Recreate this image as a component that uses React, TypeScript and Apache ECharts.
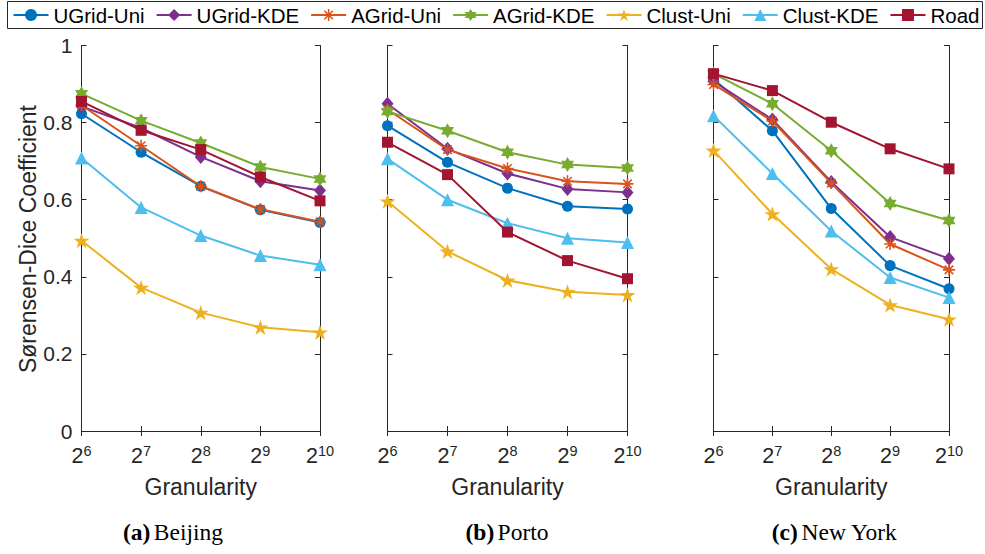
import React, { useEffect, useRef } from 'react';
import * as echarts from 'echarts';

// x categories: exponents of 2 (2^6 ... 2^10)
const granularityExponents = ['6', '7', '8', '9', '10'];
const seriesNames = ['UGrid-Uni', 'UGrid-KDE', 'AGrid-Uni', 'AGrid-KDE', 'Clust-Uni', 'Clust-KDE', 'Road'];
const yTicks = [0, 0.2, 0.4, 0.6, 0.8, 1];

// (a) Beijing
const beijingUGridUni = [0.823, 0.723, 0.635, 0.574, 0.541];
const beijingUGridKDE = [0.842, 0.786, 0.711, 0.648, 0.624];
const beijingAGridUni = [0.845, 0.740, 0.635, 0.575, 0.543];
const beijingAGridKDE = [0.875, 0.805, 0.747, 0.685, 0.654];
const beijingClustUni = [0.494, 0.372, 0.307, 0.269, 0.256];
const beijingClustKDE = [0.708, 0.580, 0.507, 0.455, 0.431];
const beijingRoad = [0.855, 0.780, 0.730, 0.659, 0.597];

// (b) Porto
const portoUGridUni = [0.792, 0.697, 0.630, 0.583, 0.576];
const portoUGridKDE = [0.849, 0.732, 0.668, 0.628, 0.619];
const portoAGridUni = [0.834, 0.730, 0.681, 0.648, 0.641];
const portoAGridKDE = [0.829, 0.779, 0.723, 0.691, 0.682];
const portoClustUni = [0.596, 0.466, 0.391, 0.361, 0.353];
const portoClustKDE = [0.706, 0.600, 0.539, 0.500, 0.489];
const portoRoad = [0.749, 0.665, 0.516, 0.442, 0.395];

// (c) New York
const nyUGridUni = [0.913, 0.779, 0.577, 0.429, 0.369];
const nyUGridKDE = [0.907, 0.808, 0.646, 0.503, 0.447];
const nyAGridUni = [0.899, 0.804, 0.643, 0.485, 0.418];
const nyAGridKDE = [0.927, 0.849, 0.727, 0.590, 0.546];
const nyClustUni = [0.728, 0.563, 0.420, 0.327, 0.290];
const nyClustKDE = [0.818, 0.668, 0.519, 0.398, 0.346];
const nyRoad = [0.927, 0.883, 0.801, 0.732, 0.680];

const panelCaptions = [
  { tag: '(a)', city: 'Beijing' },
  { tag: '(b)', city: 'Porto' },
  { tag: '(c)', city: 'New York' },
];

const panelData = [
  [beijingUGridUni, beijingUGridKDE, beijingAGridUni, beijingAGridKDE, beijingClustUni, beijingClustKDE, beijingRoad],
  [portoUGridUni, portoUGridKDE, portoAGridUni, portoAGridKDE, portoClustUni, portoClustKDE, portoRoad],
  [nyUGridUni, nyUGridKDE, nyAGridUni, nyAGridKDE, nyClustUni, nyClustKDE, nyRoad],
];

const colors = ['#0072BD', '#7E2F8E', '#D95319', '#77AC30', '#EDB120', '#4DBEEE', '#A2142F'];

function starPath(n: number, rOuter: number, rInner: number): string {
  const pts: string[] = [];
  for (let k = 0; k < 2 * n; k++) {
    const r = k % 2 === 0 ? rOuter : rInner;
    const a = -Math.PI / 2 + (k * Math.PI) / n;
    pts.push(`${(r * Math.cos(a)).toFixed(4)} ${(r * Math.sin(a)).toFixed(4)}`);
  }
  return 'path://M' + pts.join(' L') + ' Z';
}

function asteriskPath(): string {
  const w = 0.13;
  const parts: string[] = [];
  [0, 45, 90, 135].forEach((deg) => {
    const a = (deg * Math.PI) / 180;
    const c = Math.cos(a), s = Math.sin(a);
    const nx = -s * w, ny = c * w;
    const p = [
      [c + nx, s + ny],
      [-c + nx, -s + ny],
      [-c - nx, -s - ny],
      [c - nx, s - ny],
    ];
    parts.push('M' + p.map((q) => `${q[0].toFixed(4)} ${q[1].toFixed(4)}`).join(' L') + ' Z');
  });
  return 'path://' + parts.join(' ');
}

const symbols: any[] = [
  'circle',
  'diamond',
  asteriskPath(),
  starPath(6, 1, 0.577),
  starPath(5, 1, 0.382),
  'triangle',
  'rect',
];
const symbolSizes: any[] = [11, [12, 14], 12, 15, 16, 13, 11];

const grids = [
  { left: 81.5, width: 238.5 },
  { left: 387.5, width: 240 },
  { left: 713.5, width: 235.5 },
];
const gridTop = 45.5;
const gridHeight = 385.5;

const axisColor = '#262626';
const FONT = 'Liberation Sans, Arial, Helvetica, sans-serif';

export default function App() {
  const ref = useRef<HTMLDivElement>(null);
  useEffect(() => {
    if (!ref.current) return;
    const chart = echarts.init(ref.current, undefined, { renderer: 'svg' });

    const gridOpts: any[] = [];
    const xAxes: any[] = [];
    const yAxes: any[] = [];
    const series: any[] = [];
    const graphics: any[] = [];

    grids.forEach((g, p) => {
      gridOpts.push({ left: g.left, top: gridTop, width: g.width, height: gridHeight, containLabel: false });
      xAxes.push({
        type: 'category',
        gridIndex: p,
        position: 'bottom',
        data: granularityExponents,
        boundaryGap: false,
        axisLine: { show: true, lineStyle: { color: axisColor, width: 1 } },
        axisTick: { show: true, inside: true, length: 5, interval: 0, lineStyle: { color: axisColor } },
        axisLabel: {
          show: true,
          interval: 0,
          margin: 12,
          formatter: (v: string) => `{b|2}{s|${v}}`,
          rich: {
            b: { fontSize: 21.5, fontFamily: FONT, color: '#262626', lineHeight: 24, verticalAlign: 'bottom' },
            s: { fontSize: 14.5, fontFamily: FONT, color: '#262626', lineHeight: 14, verticalAlign: 'top' },
          },
        },
        splitLine: { show: false },
        name: 'Granularity',
        nameLocation: 'middle',
        nameGap: 44,
        nameTextStyle: { fontSize: 23, fontFamily: FONT, color: '#262626' },
      });
      xAxes.push({
        type: 'category',
        gridIndex: p,
        position: 'top',
        data: granularityExponents,
        boundaryGap: false,
        axisLine: { show: true, lineStyle: { color: axisColor, width: 1 } },
        axisTick: { show: true, inside: true, length: 5, interval: 0, lineStyle: { color: axisColor } },
        axisLabel: { show: false },
        splitLine: { show: false },
      });
      yAxes.push({
        type: 'value',
        gridIndex: p,
        position: 'left',
        min: 0,
        max: 1,
        interval: 0.2,
        axisLine: { show: true, lineStyle: { color: axisColor, width: 1 } },
        axisTick: { show: true, inside: true, length: 5, lineStyle: { color: axisColor } },
        axisLabel: {
          show: p === 0,
          margin: 9,
          fontSize: 21,
          fontFamily: FONT,
          color: '#262626',
          formatter: (v: number) => String(yTicks.find((t) => Math.abs(t - v) < 1e-9) ?? v),
        },
        splitLine: { show: false },
      });
      yAxes.push({
        type: 'value',
        gridIndex: p,
        position: 'right',
        min: 0,
        max: 1,
        interval: 0.2,
        axisLine: { show: true, lineStyle: { color: axisColor, width: 1 } },
        axisTick: { show: true, inside: true, length: 5, lineStyle: { color: axisColor } },
        axisLabel: { show: false },
        splitLine: { show: false },
      });

      panelData[p].forEach((vals, i) => {
        series.push({
          type: 'line',
          name: seriesNames[i],
          xAxisIndex: 2 * p,
          yAxisIndex: 2 * p,
          data: vals,
          symbol: symbols[i],
          symbolSize: symbolSizes[i],
          symbolKeepAspect: true,
          showAllSymbol: true,
          lineStyle: { color: colors[i], width: 2 },
          itemStyle: { color: colors[i] },
          emphasis: { disabled: true },
        });
      });

      const centers = [173, 507, 834.5];
      graphics.push({
        type: 'text',
        x: centers[p],
        y: 532,
        style: {
          text: `{t|${panelCaptions[p].tag}} {c|${panelCaptions[p].city}}`,
          align: 'center',
          verticalAlign: 'middle',
          rich: {
            t: { fontSize: 23.5, fontWeight: 'bold', fontFamily: 'Liberation Serif, serif', fill: '#000' },
            c: { fontSize: 23.5, fontFamily: 'Liberation Serif, serif', fill: '#000' },
          },
        },
      });
    });

    graphics.push({
      type: 'text',
      x: 28,
      y: 239,
      rotation: Math.PI / 2,
      style: {
        text: 'Sørensen-Dice Coefficient',
        fontSize: 23,
        fontFamily: FONT,
        fill: '#262626',
        align: 'center',
        verticalAlign: 'middle',
      },
    });

    chart.setOption({
      animation: false,
      backgroundColor: '#ffffff',
      legend: {
        data: seriesNames,
        left: 7.5,
        top: 1.5,
        width: 972,
        padding: [3, 3, 3, 5],
        itemGap: 11,
        itemWidth: 35,
        itemHeight: 15,
        borderColor: '#262626',
        borderWidth: 1,
        backgroundColor: '#ffffff',
        textStyle: { fontSize: 20.5, fontFamily: FONT, color: '#000' },
        selectedMode: false,
      },
      grid: gridOpts,
      xAxis: xAxes,
      yAxis: yAxes,
      series,
      graphic: graphics,
    });
    return () => chart.dispose();
  }, []);
  return (
    <div
      ref={ref}
      style={{ position: 'fixed', left: 0, top: 0, width: 985, height: 554, background: '#fff' }}
    />
  );
}
